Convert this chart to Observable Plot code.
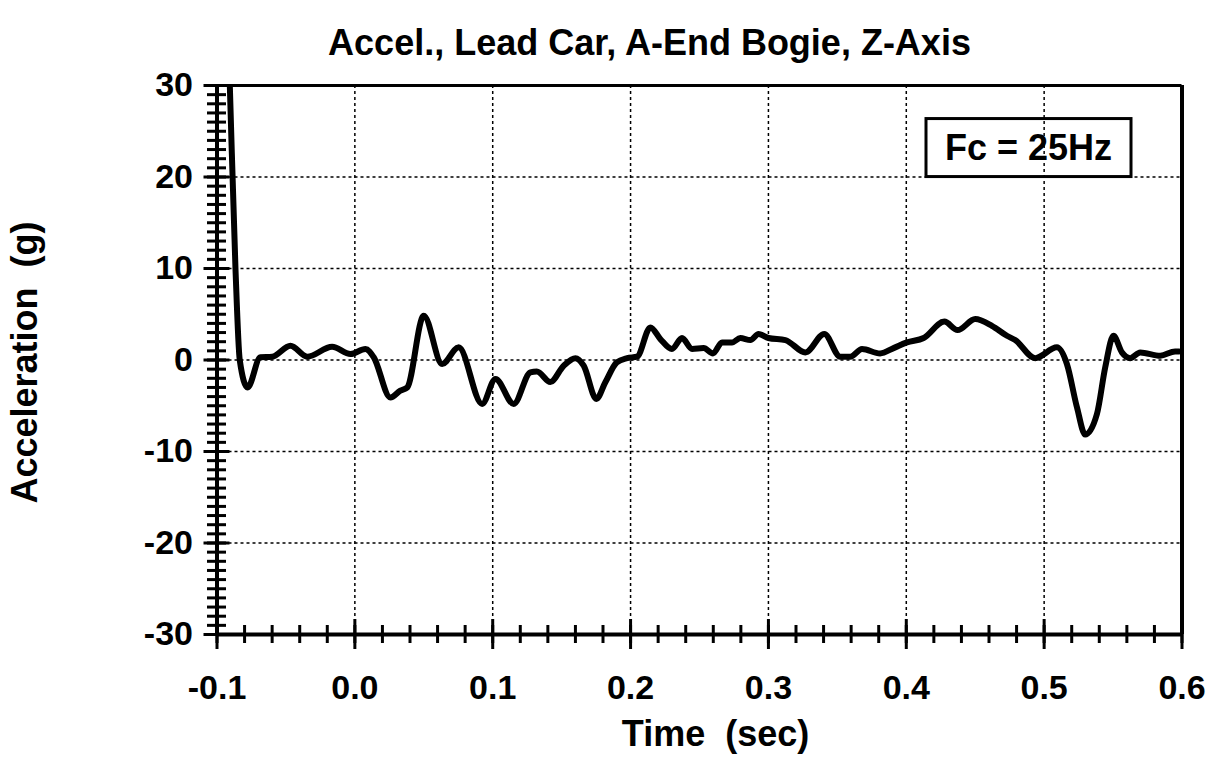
<!DOCTYPE html>
<html>
<head>
<meta charset="utf-8">
<script src="https://cdn.jsdelivr.net/npm/d3@7"></script>
<script src="https://cdn.jsdelivr.net/npm/@observablehq/plot@0.6"></script>
<style>
  html, body { margin: 0; padding: 0; background: #fff; }
  svg { font-family: "Liberation Sans", Arial, sans-serif; }
</style>
</head>
<body>
<div id="chart"></div>
<script>
const title = "Accel., Lead Car, A-End Bogie, Z-Axis";
const xLabel = "Time  (sec)";
const yLabel = "Acceleration  (g)";
const legendText = "Fc = 25Hz";

const xDomain = [-0.1, 0.6];
const yDomain = [-30, 30];
const xMajor = [-0.1, 0.0, 0.1, 0.2, 0.3, 0.4, 0.5, 0.6];
const yMajor = [-30, -20, -10, 0, 10, 20, 30];
const xGrid = [0.0, 0.1, 0.2, 0.3, 0.4, 0.5];
const yGrid = [-20, -10, 0, 10, 20];
const xMinor = d3.range(0, 36).map(i => +(-0.1 + i * 0.02).toFixed(2));
const yMinor = d3.range(-30, 31, 1);

const time = [-0.0928, -0.0907, -0.0866, -0.0835, -0.0778, -0.0685, -0.060, -0.0467, -0.0346, -0.0165,
  -0.0032, 0.0077, 0.0137, 0.0258, 0.033, 0.038, 0.050, 0.0633, 0.0753, 0.0923,
  0.102, 0.1152, 0.1273, 0.132, 0.1418, 0.1515, 0.160, 0.166, 0.1752, 0.1817,
  0.190, 0.1975, 0.2047, 0.2144, 0.2216, 0.230, 0.2373, 0.2446, 0.253, 0.2598,
  0.2663, 0.2736, 0.2796, 0.2869, 0.2929, 0.300, 0.3123, 0.3268, 0.3405, 0.3521,
  0.3594, 0.3679, 0.381, 0.3908, 0.4005, 0.4126, 0.4276, 0.4372, 0.450, 0.4621,
  0.473, 0.479, 0.4935, 0.5093, 0.5165, 0.5238, 0.5298, 0.5383, 0.5443, 0.5503,
  0.5564, 0.5624, 0.5697, 0.5842, 0.595, 0.598];
const accel = [40, 30, 10, 0, -3.0, 0.3, 0.36, 1.56, 0.36, 1.45,
  0.65, 1.2, 0.3, -4.1, -3.35, -3.0, 4.84, -0.44, 1.38, -4.8,
  -2.07, -4.8, -1.35, -1.25, -2.4, -0.62, 0.2, -0.62, -4.26, -2.44,
  -0.26, 0.2, 0.36, 3.56, 2.29, 1.2, 2.4, 1.2, 1.3, 0.72,
  1.92, 1.92, 2.4, 2.18, 2.84, 2.4, 2.18, 0.83, 2.84, 0.36,
  0.36, 1.2, 0.72, 1.3, 1.92, 2.4, 4.2, 3.27, 4.47, 3.74,
  2.65, 2.18, 0.2, 1.38, -0.44, -5.17, -8.15, -5.9, -0.8, 2.65,
  0.83, 0.2, 0.83, 0.47, 0.94, 0.94];

const data = time.map((t, i) => ({t, v: accel[i]}));

const W = 1217, H = 775;
const mL = 216.5, mR = 35.5, mT = 85, mB = 141;
const fw = W - mL - mR, fh = H - mT - mB;
const cx = mL + fw / 2, cy = mT + fh / 2;

const bold = {fontWeight: "bold", fill: "black"};
const noText = {tickFormat: () => "", fill: "none", label: null};

const chart = Plot.plot({
  width: W, height: H,
  marginLeft: mL, marginRight: mR, marginTop: mT, marginBottom: mB,
  style: {fontFamily: "'Liberation Sans', Arial, sans-serif", background: "white", overflow: "visible"},
  x: {domain: xDomain},
  y: {domain: yDomain},
  marks: [
    Plot.gridX(xGrid, {stroke: "black", strokeOpacity: 1, strokeWidth: 1.5, strokeDasharray: "3,3"}),
    Plot.gridY(yGrid, {stroke: "black", strokeOpacity: 1, strokeWidth: 1.5, strokeDasharray: "3,3"}),
    Plot.ruleY([yDomain[1]], {strokeWidth: 3}),
    Plot.ruleX([xDomain[1]], {strokeWidth: 4}),
    Plot.ruleX([xDomain[0]], {strokeWidth: 4}),
    Plot.ruleY([yDomain[0]], {strokeWidth: 4}),
    Plot.axisX({ticks: xMinor, tickSize: 18, dy: -9, strokeWidth: 3, ...noText}),
    Plot.axisX({ticks: xMajor, tickSize: 30, dy: -15, strokeWidth: 3, ...noText}),
    Plot.axisY({ticks: yMinor, tickSize: 19, dx: 9.5, strokeWidth: 3, ...noText}),
    Plot.axisY({ticks: yMajor, tickSize: 26, dx: 13, strokeWidth: 3, ...noText}),
    Plot.axisX({ticks: xMajor, tickSize: 0, tickPadding: 40, tickFormat: d => d.toFixed(1), fontSize: 34, label: null, ...bold}),
    Plot.axisY({ticks: yMajor, tickSize: 0, tickPadding: 24, tickFormat: d => String(d), fontSize: 34, label: null, ...bold}),
    Plot.line(data, {x: "t", y: "v", stroke: "black", strokeWidth: 6, curve: "monotone-x", clip: true, strokeLinejoin: "round"}),
    Plot.text([title], {frameAnchor: "top", textAnchor: "middle", dx: 649 - cx, dy: 29 - mT, fontSize: 36, ...bold}),
    Plot.text([xLabel], {frameAnchor: "bottom", textAnchor: "middle", dx: 715 - cx, dy: 745 - (mT + fh), fontSize: 36, ...bold}),
    Plot.text([yLabel], {frameAnchor: "left", textAnchor: "middle", dx: 25 - mL, dy: 362 - cy, rotate: -90, fontSize: 36, ...bold}),
    Plot.text([legendText], {frameAnchor: "top-right", textAnchor: "middle", dx: 1028 - (mL + fw), dy: 134 - mT, fontSize: 36, ...bold})
  ]
});

document.getElementById("chart").appendChild(chart);

// draw a box around the legend text
const svg = d3.select(chart);
const lt = svg.selectAll("text").filter(function() { return this.textContent === legendText; }).node();
if (lt) {
  const bb = lt.getBBox();
  const m = lt.getCTM();
  const tx = m ? m.e : 0, ty = m ? m.f : 0;
  const bw = 205, bh = 58;
  const mx = bb.x + tx + bb.width / 2, my = bb.y + ty + bb.height / 2;
  svg.append("rect")
    .attr("x", mx - bw / 2).attr("y", my - bh / 2)
    .attr("width", bw).attr("height", bh)
    .attr("fill", "none").attr("stroke", "black").attr("stroke-width", 3);
}
</script>
</body>
</html>
